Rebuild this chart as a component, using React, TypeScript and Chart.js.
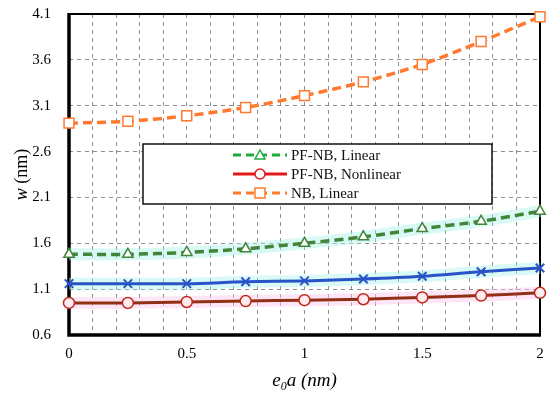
import React, { useEffect, useRef } from "react";
import { Chart, registerables } from "chart.js";

Chart.register(...registerables);

const xValues = [0, 0.25, 0.5, 0.75, 1, 1.25, 1.5, 1.75, 2];
const nbLinear = [2.91, 2.93, 2.99, 3.08, 3.21, 3.36, 3.55, 3.8, 4.07];
const pfnbLinear = [1.48, 1.48, 1.5, 1.54, 1.6, 1.67, 1.76, 1.84, 1.95];
const pfnbBlue = [1.16, 1.16, 1.16, 1.18, 1.19, 1.21, 1.24, 1.29, 1.33];
const pfnbNonlinear = [0.95, 0.95, 0.96, 0.97, 0.98, 0.99, 1.01, 1.03, 1.06];

const legendLabels = ["PF-NB, Linear", "PF-NB, Nonlinear", "NB, Linear"];
const yTitle = ["w", " (nm)"];
const xTitle = ["e", "0", "a (nm)"];

const SERIF = "'Liberation Serif', 'Times New Roman', serif";

const toPts = (ys: number[]) => xValues.map((x, i) => ({ x, y: ys[i] }));

const ORANGE = "rgb(255,122,48)";
const GREEN_LINE = "rgb(66,132,58)";
const GREEN_LEG = "rgb(34,170,60)";
const BLUE = "rgb(40,84,200)";
const RED_LINE = "rgb(145,48,20)";
const RED_MARK = "rgb(190,40,25)";
const RED_LEG = "rgb(225,25,25)";

const decorPlugin = {
  id: "decor",
  beforeDatasetsDraw(chart: any) {
    const { ctx, chartArea: a } = chart;
    ctx.save();
    ctx.strokeStyle = "#000";
    ctx.lineWidth = 2;
    ctx.strokeRect(a.left, a.top, a.right - a.left, a.bottom - a.top);
    ctx.lineWidth = 3.5;
    ctx.beginPath();
    ctx.moveTo(a.left, a.top - 1);
    ctx.lineTo(a.left, a.bottom);
    ctx.lineTo(a.right + 1, a.bottom);
    ctx.stroke();
    ctx.restore();
  },
  afterDatasetsDraw(chart: any) {
    const { ctx, chartArea: a } = chart;
    ctx.save();
    // legend box
    const bx = 143, by = 144, bw = 349, bh = 60;
    ctx.fillStyle = "#fff";
    ctx.fillRect(bx, by, bw, bh);
    ctx.strokeStyle = "#111";
    ctx.lineWidth = 1.5;
    ctx.strokeRect(bx, by, bw, bh);
    const rows = [
      { y: 155, color: GREEN_LEG, dash: [8, 5], marker: "tri" },
      { y: 174, color: RED_LEG, dash: [], marker: "circ" },
      { y: 193, color: ORANGE, dash: [8, 5], marker: "sq" },
    ];
    rows.forEach((r, i) => {
      ctx.strokeStyle = r.color;
      ctx.lineWidth = 3;
      ctx.setLineDash(r.dash);
      ctx.beginPath();
      ctx.moveTo(233, r.y);
      ctx.lineTo(287, r.y);
      ctx.stroke();
      ctx.setLineDash([]);
      ctx.fillStyle = "#fff";
      ctx.lineWidth = 1.5;
      const cx = 260;
      ctx.beginPath();
      if (r.marker === "tri") {
        ctx.moveTo(cx, r.y - 5);
        ctx.lineTo(cx + 5, r.y + 4);
        ctx.lineTo(cx - 5, r.y + 4);
        ctx.closePath();
      } else if (r.marker === "circ") {
        ctx.arc(cx, r.y, 5, 0, Math.PI * 2);
      } else {
        ctx.rect(cx - 5, r.y - 5, 10, 10);
      }
      ctx.fill();
      ctx.stroke();
      ctx.fillStyle = "#111";
      ctx.font = `15px ${SERIF}`;
      ctx.textAlign = "left";
      ctx.textBaseline = "middle";
      ctx.fillText(legendLabels[i], 291, r.y + 1);
    });
    // y title
    ctx.save();
    ctx.translate(22, (a.top + a.bottom) / 2);
    ctx.rotate(-Math.PI / 2);
    ctx.fillStyle = "#000";
    ctx.textBaseline = "middle";
    ctx.textAlign = "left";
    ctx.font = `italic 18px ${SERIF}`;
    const w1 = ctx.measureText(yTitle[0]).width;
    ctx.font = `18px ${SERIF}`;
    const w2 = ctx.measureText(yTitle[1]).width;
    const sx = -(w1 + w2) / 2;
    ctx.font = `italic 18px ${SERIF}`;
    ctx.fillText(yTitle[0], sx, 0);
    ctx.font = `18px ${SERIF}`;
    ctx.fillText(yTitle[1], sx + w1, 0);
    ctx.restore();
    // x title
    ctx.fillStyle = "#000";
    ctx.textBaseline = "alphabetic";
    ctx.textAlign = "left";
    const ty = 386;
    ctx.font = `italic 19px ${SERIF}`;
    const e = ctx.measureText(xTitle[0]).width;
    const rest = ctx.measureText(xTitle[2]).width;
    ctx.font = `italic 12px ${SERIF}`;
    const z = ctx.measureText(xTitle[1]).width;
    const px = (a.left + a.right) / 2 - (e + z + rest) / 2;
    ctx.font = `italic 19px ${SERIF}`;
    ctx.fillText(xTitle[0], px, ty);
    ctx.font = `italic 12px ${SERIF}`;
    ctx.fillText(xTitle[1], px + e, ty + 4);
    ctx.font = `italic 19px ${SERIF}`;
    ctx.fillText(xTitle[2], px + e + z, ty);
    ctx.restore();
  },
};

export default function App() {
  const ref = useRef<HTMLCanvasElement>(null);
  useEffect(() => {
    if (!ref.current) return;
    const band = (ys: number[], color: string) => ({
      data: toPts(ys),
      borderColor: color,
      borderWidth: 12,
      pointRadius: 0,
      tension: 0.3,
      clip: false,
      order: 10,
    });
    const chart = new Chart(ref.current, {
      type: "line",
      data: {
        datasets: [
          band(pfnbLinear, "rgba(170,245,230,0.45)"),
          band(pfnbBlue, "rgba(170,245,235,0.45)"),
          band(pfnbNonlinear, "rgba(255,200,235,0.45)"),
          {
            data: toPts(nbLinear),
            borderColor: ORANGE,
            borderWidth: 3.5,
            borderDash: [9, 5],
            pointStyle: "rect",
            pointRadius: 7,
            pointBackgroundColor: "#fff",
            pointBorderColor: ORANGE,
            pointBorderWidth: 1.5,
            tension: 0.3,
            clip: false,
            order: 1,
          },
          {
            data: toPts(pfnbLinear),
            borderColor: GREEN_LINE,
            borderWidth: 3.5,
            borderDash: [9, 5],
            pointStyle: "triangle",
            pointRadius: 6,
            pointBackgroundColor: "#fff",
            pointBorderColor: GREEN_LINE,
            pointBorderWidth: 1.5,
            tension: 0.3,
            clip: false,
            order: 1,
          },
          {
            data: toPts(pfnbBlue),
            borderColor: BLUE,
            borderWidth: 3,
            pointStyle: "crossRot",
            pointRadius: 6,
            pointBorderColor: BLUE,
            pointBorderWidth: 2,
            tension: 0.3,
            clip: false,
            order: 1,
          },
          {
            data: toPts(pfnbNonlinear),
            borderColor: RED_LINE,
            borderWidth: 3,
            pointStyle: "circle",
            pointRadius: 5.5,
            pointBackgroundColor: "rgb(255,235,240)",
            pointBorderColor: RED_MARK,
            pointBorderWidth: 1.5,
            tension: 0.3,
            clip: false,
            order: 1,
          },
        ],
      },
      options: {
        responsive: false,
        animation: false,
        layout: { padding: { top: 14, right: 10, left: 0, bottom: 0 } },
        plugins: { legend: { display: false }, tooltip: { enabled: false } },
        scales: {
          x: {
            type: "linear",
            min: 0,
            max: 2,
            afterFit: (s: any) => {
              s.height = 64;
              s.paddingLeft = 0;
              s.paddingRight = 0;
            },
            ticks: {
              stepSize: 0.1,
              autoSkip: false,
              maxRotation: 0,
              padding: 10,
              color: "#000",
              font: { family: SERIF, size: 15 },
              callback: (v: any) => {
                const n = Number(v);
                return Math.abs(n * 2 - Math.round(n * 2)) < 1e-6
                  ? String(Math.round(n * 10) / 10)
                  : "";
              },
            },
            grid: {
              drawTicks: false,
              color: "rgba(130,130,130,0.9)",
              lineWidth: 1,
            },
            border: { display: false, dash: [4, 4] } as any,
          },
          y: {
            min: 0.6,
            max: 4.1,
            afterFit: (s: any) => {
              s.width = 69;
              s.paddingTop = 0;
              s.paddingBottom = 0;
            },
            ticks: {
              stepSize: 0.5,
              padding: 18,
              color: "#000",
              font: { family: SERIF, size: 15 },
              callback: (v: any) => Number(v).toFixed(1),
            },
            grid: {
              drawTicks: false,
              color: "rgba(130,130,130,0.9)",
              lineWidth: 1,
            },
            border: { display: false, dash: [4, 4] } as any,
          },
        },
      },
      plugins: [decorPlugin],
    });
    return () => chart.destroy();
  }, []);
  return (
    <div style={{ position: "fixed", left: 0, top: 0, width: 550, height: 399, background: "#fff" }}>
      <canvas ref={ref} width={550} height={399} style={{ display: "block" }} />
    </div>
  );
}
